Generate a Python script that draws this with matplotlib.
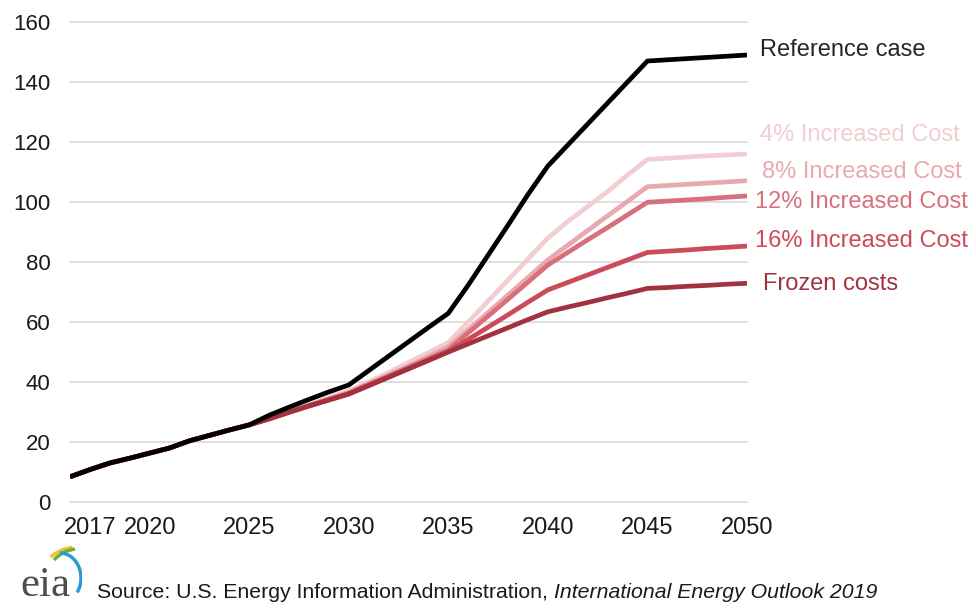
import matplotlib
matplotlib.use("Agg")
import matplotlib.pyplot as plt
import matplotlib.transforms as mtransforms
from matplotlib.patches import Arc

plt.rcParams['font.family'] = ['Liberation Sans', 'DejaVu Sans']

years = list(range(2016, 2051))

common = [8.4, 10.8, 13.0, 14.6, 16.3, 18.0, 20.4, 22.2, 24.0, 25.7]

reference = common + [28.9, 31.6, 34.2, 36.7, 39.0,
                      43.8, 48.6, 53.4, 58.2, 62.9,
                      72.3, 82.3, 92.3, 102.5, 112.0,
                      119.0, 126.0, 133.0, 140.0, 147.0,
                      147.4, 147.8, 148.2, 148.6, 149.0]
inc4 = common + [28.0, 30.3, 32.5, 34.8, 37.0,
                 40.0, 43.2, 46.5, 49.8, 53.2,
                 60.0, 67.0, 74.0, 81.0, 88.0,
                 93.5, 98.5, 103.5, 109.0, 114.2,
                 114.6, 115.0, 115.4, 115.7, 116.0]
inc8 = common + [27.9, 30.1, 32.2, 34.4, 36.5,
                 39.5, 42.3, 45.3, 48.5, 51.8,
                 57.5, 63.2, 69.0, 74.8, 80.7,
                 85.6, 90.5, 95.4, 100.2, 105.1,
                 105.5, 105.9, 106.3, 106.7, 107.1]
inc12 = common + [27.8, 30.0, 32.1, 34.2, 36.3,
                  39.2, 42.0, 44.9, 47.8, 50.7,
                  56.4, 62.0, 67.6, 73.3, 79.0,
                  83.2, 87.4, 91.5, 95.7, 99.9,
                  100.3, 100.7, 101.1, 101.6, 102.0]
inc16 = common + [27.7, 29.9, 32.0, 34.0, 36.0,
                  38.8, 41.6, 44.4, 47.2, 50.1,
                  54.2, 58.3, 62.4, 66.6, 70.7,
                  73.2, 75.7, 78.2, 80.7, 83.2,
                  83.6, 84.0, 84.5, 84.9, 85.3]
frozen = common + [27.7, 29.9, 32.0, 34.0, 36.0,
                   38.8, 41.6, 44.4, 47.2, 50.0,
                   52.7, 55.4, 58.1, 60.8, 63.4,
                   65.0, 66.5, 68.1, 69.6, 71.2,
                   71.5, 71.9, 72.2, 72.6, 72.9]

series_names = ["Frozen costs", "16% Increased Cost", "12% Increased Cost",
                "8% Increased Cost", "4% Increased Cost", "Reference case"]
series_values = [frozen, inc16, inc12, inc8, inc4, reference]
series_colors = ["#A3323F", "#CC4A5A", "#D8707C", "#E8A9B0", "#F2CDD1", "#000000"]
label_y = [72.7, 87.0, 100.0, 110.0, 122.3, 150.7]
label_x = [1.024, 1.012, 1.012, 1.022, 1.019, 1.019]

xtick_pos = [2017, 2020, 2025, 2030, 2035, 2040, 2045, 2050]
xtick_labels = ["2017", "2020", "2025", "2030", "2035", "2040", "2045", "2050"]
yticks = [0, 20, 40, 60, 80, 100, 120, 140, 160]

fig = plt.figure(figsize=(9.76, 6.10), dpi=100)
ax = fig.add_axes([70/976, 1-502/610, 677/976, 480/610])

for i in [4, 3, 2, 1, 0, 5]:
    ax.plot(years, series_values[i], color=series_colors[i], lw=3.4,
            solid_capstyle='butt', zorder=3 + (1 if i == 5 else 0))

ax.set_xlim(2016, 2050)
ax.set_ylim(0, 160)
ax.set_yticks(yticks)
ax.set_xticks(xtick_pos)
ax.set_xticklabels(xtick_labels)
ax.grid(axis='y', color='#D9D9D9', lw=1.2)
for gl in ax.get_ygridlines():
    gl.set_clip_on(False)
ax.set_axisbelow(True)
for s in ax.spines.values():
    s.set_visible(False)
ax.tick_params(axis='both', length=0, colors='#1a1a1a')
ax.tick_params(axis='y', pad=14, labelsize=16)
ax.tick_params(axis='x', pad=11, labelsize=17)

trans = mtransforms.blended_transform_factory(ax.transAxes, ax.transData)
text_colors = ["#A3323F", "#CC4A5A", "#D8707C", "#E8A9B0", "#F2CDD1", "#262626"]
for name, ly, lx, c in zip(series_names, label_y, label_x, text_colors):
    ax.text(lx, ly, name, transform=trans, ha='left', va='center',
            fontsize=17, color=c, clip_on=False)

# source line
t1 = fig.text(97/976, 1-592/610, "Source: U.S. Energy Information Administration, ",
              fontsize=15.3, color='#1a1a1a', va='center', ha='left')
fig.canvas.draw()
r = fig.canvas.get_renderer()
bb = t1.get_window_extent(renderer=r)
fig.text(bb.x1/976, 1-592/610, "International Energy Outlook 2019",
         fontsize=15.3, color='#1a1a1a', va='center', ha='left', style='italic')

# eia logo
fig.text(20/976, 1-586/610, "eia", family='Liberation Serif', fontsize=31,
         color='#4D4D4D', va='center', ha='left')
lax = fig.add_axes([18/976, 1-600/610, 64/976, 56/610])
lax.set_xlim(0, 64)
lax.set_ylim(0, 56)
lax.axis('off')
lax.add_patch(Arc((60, 20), 76, 66, theta1=100, theta2=140, color='#F2C12E', lw=2.5))
lax.add_patch(Arc((60, 16), 66, 70, theta1=95, theta2=135, color='#6AAF3D', lw=2.5))
lax.add_patch(Arc((42, 22), 42, 50, theta1=-40, theta2=90, color='#2A9BD7', lw=2.5))

fig.savefig("out.png", dpi=100)
